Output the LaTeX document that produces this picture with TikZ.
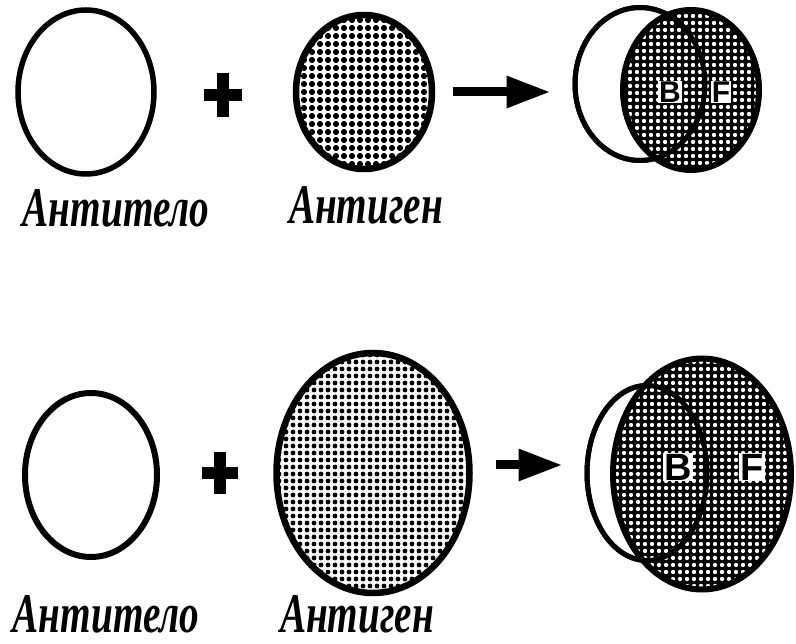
\documentclass[tikz,border=0pt]{standalone}
\usepackage{fontspec}
\setmainfont{Liberation Serif}
\setsansfont{Liberation Sans}
\usetikzlibrary{shapes.geometric,arrows.meta,patterns}

\pgfdeclarepatternformonly{coarsedots}{\pgfpoint{-4pt}{-4pt}}{\pgfpoint{4pt}{4pt}}{\pgfpoint{8pt}{8pt}}{%
  \pgfpathcircle{\pgfpointorigin}{3.1pt}\pgfusepath{fill}}
\pgfdeclarepatternformonly{finedots}{\pgfpoint{-3.25pt}{-3.25pt}}{\pgfpoint{3.25pt}{3.25pt}}{\pgfpoint{6.5pt}{6.5pt}}{%
  \pgfpathcircle{\pgfpointorigin}{2.6pt}\pgfusepath{fill}}
\pgfdeclarepatternformonly{holes}{\pgfpoint{-3.25pt}{-3.25pt}}{\pgfpoint{3.25pt}{3.25pt}}{\pgfpoint{6.5pt}{6.5pt}}{%
  \pgfpathcircle{\pgfpointorigin}{2.3pt}\pgfusepath{fill}}

\newcommand{\squeeze}[1]{\scalebox{0.7}[1]{#1}}

\tikzset{
  antibody/.style={
    ellipse,
    draw,
    line width=5.5pt,
    fill=white,
    inner sep=0pt,
  },
  antigen/.style={
    ellipse,
    draw,
    line width=6.5pt,
    preaction={fill=white},
    inner sep=0pt,
  },
  complex/.style={
    ellipse,
    draw,
    line width=6pt,
    preaction={fill=black},
    pattern=holes,
    pattern color=white,
    inner sep=0pt,
  },
  rim/.style={
    ellipse,
    draw,
    line width=5pt,
    inner sep=0pt,
  },
  caption/.style={
    font=\fontsize{56}{56}\selectfont\bfseries\itshape,
    inner sep=0pt,
    anchor=base,
  },
  tag/.style={
    fill=white,
    font=\sffamily\bfseries,
    inner sep=1pt,
  },
  plusbar/.style={line width=12pt},
  reaction/.style={line width=9pt, -{Triangle[length=44pt,width=30pt]}},
}

\begin{document}
\begin{tikzpicture}[x=1pt, y=-1pt]
  \useasboundingbox[fill=white] (0, 0) rectangle (796, 644);

  % upper row
  \node[antibody, minimum width=136, minimum height=164] (ab1) at (86, 92) {};
  \coordinate (plus1) at (223, 95);
  \draw[plusbar] ([xshift=-19]plus1) -- ([xshift=19]plus1);
  \draw[plusbar] ([yshift=-22]plus1) -- ([yshift=22]plus1);
  \node[antigen, pattern=coarsedots, minimum width=136, minimum height=154] (ag1) at (364, 92) {};
  \node[antibody, line width=5pt, minimum width=130, minimum height=153] (ab1r) at (640, 84) {};
  \node[complex, minimum width=136, minimum height=160] (ag1r) at (691, 90) {};
  \node[rim, minimum width=130, minimum height=153] (rim1) at (640, 84) {};
  \node[tag, font=\sffamily\bfseries\fontsize{30}{30}\selectfont] (b1) at (670, 92) {B};
  \node[tag, font=\sffamily\bfseries\fontsize{30}{30}\selectfont] (f1) at (721, 92) {F};
  \coordinate (go1) at ([xshift=18]ag1.east);
  \draw[reaction] (go1) -- ([xshift=-22]ab1r.west |- go1);

  \node[caption] (lab1) at (116, 227) {\squeeze{Антитело}};
  \node[caption] (lgn1) at (366, 224) {\squeeze{Антиген}};

  % lower row
  \node[antibody, line width=6pt, minimum width=132, minimum height=164] (ab2) at (91, 475) {};
  \coordinate (plus2) at (220, 473);
  \draw[plusbar] ([xshift=-18]plus2) -- ([xshift=18]plus2);
  \draw[plusbar] ([yshift=-21]plus2) -- ([yshift=21]plus2);
  \node[antigen, pattern=finedots, minimum width=193, minimum height=240] (ag2) at (373, 473) {};
  \node[antibody, line width=5pt, minimum width=120, minimum height=175] (ab2r) at (647, 473) {};
  \node[complex, minimum width=178, minimum height=231] (ag2r) at (702, 474) {};
  \node[rim, minimum width=120, minimum height=175] (rim2) at (647, 473) {};
  \node[tag, font=\sffamily\bfseries\fontsize{38}{38}\selectfont] (b2) at (678, 467) {B};
  \node[tag, font=\sffamily\bfseries\fontsize{38}{38}\selectfont] (f2) at (752, 467) {F};
  \coordinate (go2) at ([xshift=23, yshift=8]ag2.east);
  \draw[reaction] (go2) -- ([xshift=-22]ab2r.west |- go2);

  \node[caption] (lab2) at (106, 632) {\squeeze{Антитело}};
  \node[caption] (lgn2) at (357, 632) {\squeeze{Антиген}};

\end{tikzpicture}
\end{document}
